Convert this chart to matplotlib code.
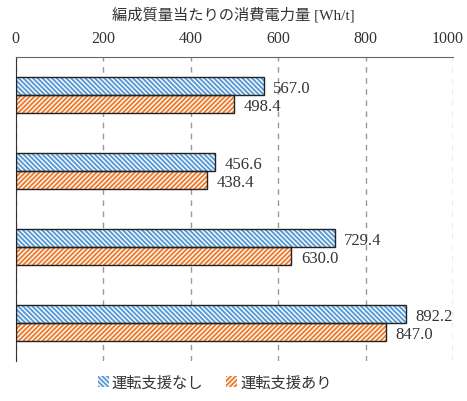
import matplotlib
matplotlib.use("Agg")
import matplotlib.pyplot as plt
import matplotlib.transforms as mtransforms
import numpy as np
from matplotlib.patches import Patch

plt.rcParams['hatch.linewidth'] = 1.0

categories = ["A", "B", "C", "D"]
series_names = ["運転支援なし", "運転支援あり"]
without_assist = [567.0, 456.6, 729.4, 892.2]
with_assist = [498.4, 438.4, 630.0, 847.0]
xticks = [0, 200, 400, 600, 800, 1000]

colors = ["#5B9BD5", "#ED7D31"]
hatches = ["\\" * 7, "/" * 7]

serif = ["Liberation Serif", "Noto Sans CJK JP", "DejaVu Serif"]
jp = ["Noto Sans CJK JP", "DejaVu Sans"]

fig = plt.figure(figsize=(4.67, 4.02), dpi=100)
ax = fig.add_axes([15.5 / 467, (402 - 362) / 402, (453 - 15.5) / 467, (362 - 58) / 402])

y = np.arange(len(categories))
h = 0.237
for vals, off, col, hat in [(without_assist, -h / 2, colors[0], hatches[0]),
                            (with_assist, h / 2, colors[1], hatches[1])]:
    ax.barh(y + off, vals, height=h, color=col, edgecolor="white", hatch=hat,
            linewidth=0, zorder=3)
    ax.barh(y + off, vals, height=h, color="none", edgecolor="#222222",
            linewidth=1.0, zorder=4)
    for yi, v in zip(y + off, vals):
        ax.text(v + 22, yi + 0.02, f"{v:.1f}", va="center", ha="left",
                fontsize=12, family=serif, color="#333333", zorder=5)

ax.set_xlim(0, 1000)
ax.set_ylim(3.5, -0.5)
ax.set_xticks(xticks)
ax.xaxis.tick_top()
ax.tick_params(axis="x", length=0, pad=8, labelsize=11.5, labelcolor="#333333")
labels = ax.get_xticklabels()
for lab in labels:
    lab.set_family(serif)
# nudge the last tick label inward so it stays inside the figure
labels[-1].set_transform(labels[-1].get_transform() +
                         mtransforms.ScaledTranslation(-5 / 100, 0, fig.dpi_scale_trans))
ax.set_yticks([])
ax.grid(axis="x", linestyle=(0, (4, 4)), color="#999999", linewidth=1.0, zorder=1)
for s in ["right", "bottom"]:
    ax.spines[s].set_visible(False)
ax.spines["top"].set_color("#666666")
ax.spines["left"].set_color("#333333")

fig.text(0.5, 1 - 15 / 402, "編成質量当たりの消費電力量 [Wh/t]", ha="center", va="center",
         fontsize=11, family=serif, color="#333333")

handles = [Patch(facecolor=c, edgecolor="white", hatch=hh, linewidth=0)
           for c, hh in zip(colors, hatches)]
leg = fig.legend(handles, series_names, loc="center", bbox_to_anchor=(0.46, 1 - 383 / 402),
                 ncol=2, frameon=False, prop={"family": jp, "size": 11},
                 handlelength=0.7, handleheight=0.7, handletextpad=0.2, columnspacing=1.5)
for t in leg.get_texts():
    t.set_color("#333333")

fig.savefig("out.png", dpi=100)
